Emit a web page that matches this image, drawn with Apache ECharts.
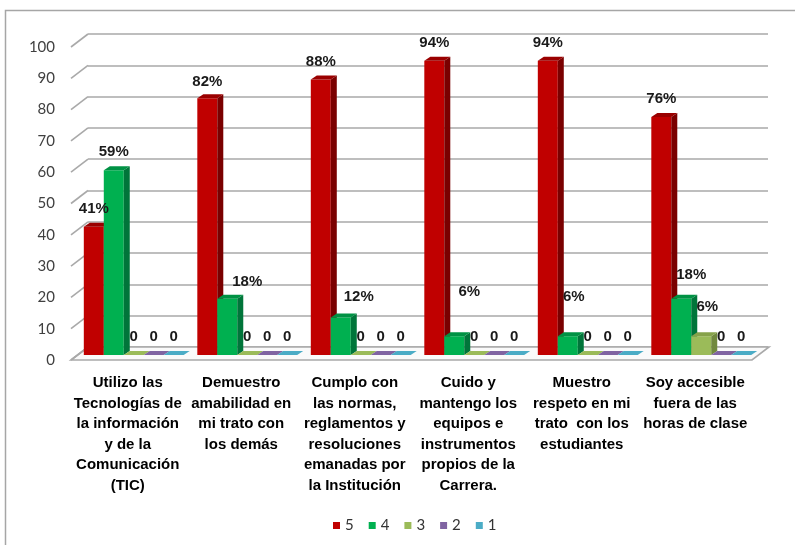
<!DOCTYPE html>
<html>
<head>
<meta charset="utf-8">
<script src="https://cdn.jsdelivr.net/npm/echarts@6/dist/echarts.min.js"></script>
<style>
  html, body { margin: 0; padding: 0; background: #fff; }
  #chart { width: 795px; height: 545px; }
</style>
</head>
<body>
<div id="chart"></div>
<script>
// categorias (eje x)
const categories = [
  "Utilizo las\nTecnologías de\nla información\ny de la\nComunicación\n(TIC)",
  "Demuestro\namabilidad en\nmi trato con\nlos demás",
  "Cumplo con\nlas normas,\nreglamentos y\nresoluciones\nemanadas por\nla Institución",
  "Cuido y\nmantengo los\nequipos e\ninstrumentos\npropios de la\nCarrera.",
  "Muestro\nrespeto en mi\ntrato  con los\nestudiantes",
  "Soy accesible\nfuera de las\nhoras de clase"
];
const seriesNames = ["5", "4", "3", "2", "1"];
const values5 = [41, 82, 88, 94, 94, 76];
const values4 = [59, 18, 12, 6, 6, 18];
const values3 = [0, 0, 0, 0, 0, 6];
const values2 = [0, 0, 0, 0, 0, 0];
const values1 = [0, 0, 0, 0, 0, 0];
const yTicks = [0, 10, 20, 30, 40, 50, 60, 70, 80, 90, 100];

const FONT = "'Liberation Sans', Arial, sans-serif";
// colores: frente, lado, arriba
const palette = [
  ["#c00000", "#7a0000", "#9a0000"],
  ["#00b050", "#00753a", "#009244"],
  ["#9bbb59", "#71893e", "#86a24a"],
  ["#8064a2", "#5c4778", "#6e5690"],
  ["#4bacc6", "#337d91", "#3f97af"]
];
const DEPTH_X = 17, DEPTH_Y = -13; // profundidad de la pared
const MID_X = 6, MID_Y = -5;       // barras a media profundidad
const BOX_X = 6, BOX_Y = -4;       // grosor 3D de cada barra
// etiquetas movidas a mano (serie-categoria: [dx, dy])
const labelNudge = {
  "0-1": [0, 2],
  "1-1": [20, 1],
  "1-2": [18, -3],
  "1-3": [15, -26],
  "1-4": [6, -21],
  "1-5": [10, -6],
  "2-5": [6, -11]
};

let chart = echarts.init(document.getElementById("chart"));

function barSeries(k, vals) {
  return {
    name: seriesNames[k],
    type: "custom",
    color: palette[k][0],
    xAxisIndex: 0,
    yAxisIndex: 0,
    z: 5,
    data: vals.map((v, i) => [i, v]),
    encode: { x: 0, y: 1 },
    renderItem: function (params, api) {
      let i = api.value(0), v = api.value(1);
      let base = api.coord([i, 0]);
      let top = api.coord([i, v]);
      let band = api.size([1, 0])[0];
      let bw = band * 0.176;
      let x = base[0] - 2.5 * bw + k * bw + MID_X;
      let yb = base[1] + MID_Y;
      let yt = top[1] + MID_Y;
      let c = palette[k];
      let nudge = labelNudge[k + "-" + i] || [0, 0];
      let children = [];
      if (v > 0) {
        children.push({
          type: "rect",
          shape: { x: x, y: yt, width: bw, height: yb - yt },
          style: { fill: c[0] }
        });
        children.push({
          type: "polygon",
          shape: { points: [[x + bw, yt], [x + bw + BOX_X, yt + BOX_Y], [x + bw + BOX_X, yb + BOX_Y], [x + bw, yb]] },
          style: { fill: c[1] }
        });
      }
      children.push({
        type: "polygon",
        shape: { points: [[x, yt], [x + BOX_X, yt + BOX_Y], [x + bw + BOX_X, yt + BOX_Y], [x + bw, yt]] },
        style: { fill: v > 0 ? c[2] : c[0] }
      });
      children.push({
        type: "text",
        z2: 10,
        style: {
          text: v > 0 ? v + "%" : "0",
          x: x + bw / 2 + nudge[0],
          y: yt - 18 + nudge[1],
          align: "center",
          verticalAlign: "middle",
          font: "bold 15px " + FONT,
          fill: "#1a1a1a"
        }
      });
      return { type: "group", children: children };
    }
  };
}

let option = {
  animation: false,
  graphic: [{
    type: "rect",
    shape: { x: 5.5, y: 10.5, width: 800, height: 545 },
    style: { fill: "none", stroke: "#a6a6a6", lineWidth: 1.5 },
    z: -10
  }],
  legend: {
    data: seriesNames,
    left: 328,
    top: 513,
    icon: "rect",
    itemWidth: 7,
    itemHeight: 7,
    itemGap: 15,
    textStyle: { fontFamily: "Lato, sans-serif", fontSize: 15, color: "#333" }
  },
  grid: [
    { left: 71, right: 43, top: 47, bottom: 185 },
    { left: 88, right: 27, top: 34, bottom: 198 }
  ],
  xAxis: [
    {
      type: "category",
      gridIndex: 0,
      data: categories,
      axisLine: { show: false },
      axisTick: { show: false },
      axisLabel: {
        interval: 0,
        margin: 13,
        fontFamily: FONT,
        fontWeight: "bold",
        fontSize: 15,
        lineHeight: 20.5,
        color: "#000"
      }
    },
    {
      type: "category",
      gridIndex: 1,
      data: categories,
      show: false
    }
  ],
  yAxis: [
    {
      type: "value",
      gridIndex: 0,
      min: 0,
      max: 100,
      interval: 10,
      axisLine: { show: false },
      axisTick: { show: false },
      splitLine: { show: false },
      axisLabel: { margin: 16, fontFamily: "Lato, sans-serif", fontSize: 15, color: "#404040" }
    },
    {
      type: "value",
      gridIndex: 1,
      min: 0,
      max: 100,
      interval: 10,
      axisLine: { show: false },
      axisTick: { show: false },
      axisLabel: { show: false },
      splitLine: { lineStyle: { color: "#a9a9a9", width: 1.6 } }
    }
  ],
  series: [
    {
      // piso
      type: "custom",
      xAxisIndex: 0,
      yAxisIndex: 0,
      z: 1,
      silent: true,
      data: [[0, 0]],
      encode: { x: 0, y: 1 },
      renderItem: function (params, api) {
        let cs = params.coordSys;
        let y0 = api.coord([0, 0])[1];
        return {
          type: "polygon",
          shape: { points: [[cs.x, y0], [cs.x + cs.width, y0], [cs.x + cs.width + DEPTH_X, y0 + DEPTH_Y], [cs.x + DEPTH_X, y0 + DEPTH_Y]] },
          style: { fill: "#fafafa", stroke: "#a9a9a9", lineWidth: 1.6 }
        };
      }
    },
    {
      // diagonales de la pared izquierda
      type: "custom",
      xAxisIndex: 0,
      yAxisIndex: 0,
      z: 2,
      silent: true,
      data: yTicks.map(t => [0, t]),
      encode: { x: 0, y: 1 },
      renderItem: function (params, api) {
        let cs = params.coordSys;
        let y = api.coord([0, api.value(1)])[1];
        return {
          type: "line",
          shape: { x1: cs.x, y1: y, x2: cs.x + DEPTH_X, y2: y + DEPTH_Y },
          style: { stroke: "#a9a9a9", lineWidth: 1.6 }
        };
      }
    },
    barSeries(0, values5),
    barSeries(1, values4),
    barSeries(2, values3),
    barSeries(3, values2),
    barSeries(4, values1)
  ]
};
chart.setOption(option);
</script>
</body>
</html>
